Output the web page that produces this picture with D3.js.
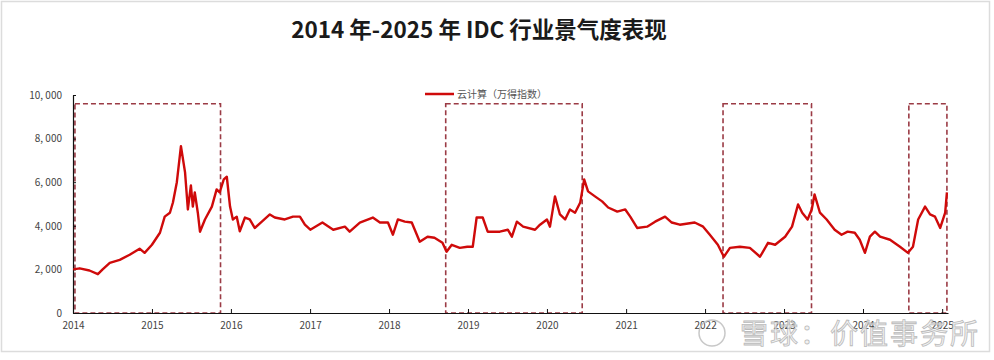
<!DOCTYPE html>
<html>
<head>
<meta charset="utf-8">
<script src="https://cdn.jsdelivr.net/npm/d3@7/dist/d3.min.js"></script>
<style>
  html, body { margin: 0; padding: 0; background: #fff; }
  svg { display: block; }
</style>
</head>
<body>
<svg id="chart" width="994" height="360"></svg>
<script>
// ---- data ----
const title = "2014 年-2025 年 IDC 行业景气度表现";
const seriesName = "云计算（万得指数）";
const dates = [
"2014-01-02","2014-02-01","2014-03-18","2014-04-26","2014-05-18","2014-06-20","2014-08-05","2014-09-20","2014-11-05","2014-11-28",
"2015-01-01","2015-02-07","2015-03-01","2015-03-25","2015-04-08","2015-04-26","2015-05-15","2015-06-03","2015-06-16","2015-06-30",
"2015-07-09","2015-07-18","2015-08-01","2015-08-11","2015-09-03","2015-10-05","2015-10-27","2015-11-10","2015-11-29","2015-12-13",
"2015-12-28","2016-01-10","2016-01-28","2016-02-11","2016-03-06","2016-03-28","2016-04-20","2016-05-23","2016-06-29","2016-07-22",
"2016-09-06","2016-10-14","2016-11-15","2016-12-08","2017-01-02","2017-02-27","2017-04-18","2017-06-11","2017-07-03","2017-08-19",
"2017-10-18","2017-11-20","2017-12-27","2018-01-19","2018-02-11","2018-03-15","2018-04-16","2018-05-23","2018-06-28","2018-07-30",
"2018-09-05","2018-09-24","2018-10-18","2018-11-24","2018-12-29","2019-01-23","2019-02-10","2019-03-10","2019-04-02","2019-05-05",
"2019-05-28","2019-07-04","2019-07-23","2019-08-15","2019-09-13","2019-11-07","2019-11-30","2020-01-01","2020-01-15","2020-02-07",
"2020-03-01","2020-03-25","2020-04-16","2020-05-10","2020-06-03","2020-06-21","2020-07-09","2020-08-10","2020-09-12","2020-10-10",
"2020-11-21","2020-12-28","2021-01-20","2021-02-21","2021-04-08","2021-05-15","2021-06-30","2021-07-31","2021-09-06","2021-11-14",
"2021-12-23","2022-01-23","2022-03-01","2022-03-29","2022-04-26","2022-06-11","2022-07-27","2022-09-12","2022-10-19","2022-11-21",
"2023-01-06","2023-02-07","2023-03-07","2023-03-26","2023-04-20","2023-05-09","2023-05-22","2023-06-16","2023-07-17","2023-08-23",
"2023-09-24","2023-10-22","2023-11-24","2023-12-17","2024-01-10","2024-02-02","2024-02-25","2024-03-20","2024-05-05","2024-06-20",
"2024-07-27","2024-08-19","2024-09-12","2024-10-14","2024-11-06","2024-11-29","2024-12-23","2025-01-15","2025-01-23"
];
const values = [
2000,2050,1950,1780,2000,2300,2440,2670,2950,2760,
3130,3680,4420,4600,5070,6000,7650,6450,4750,5850,
4880,5530,4600,3730,4290,4880,5670,5530,6130,6250,
4880,4290,4420,3750,4380,4290,3900,4190,4520,4380,
4290,4420,4420,4050,3820,4150,3820,3960,3730,4150,
4380,4150,4150,3590,4290,4190,4150,3270,3500,3450,
3220,2810,3130,2990,3040,3040,4380,4380,3730,3730,
3730,3820,3500,4190,3960,3820,4050,4290,3960,5350,
4520,4290,4750,4600,5070,6130,5580,5350,5120,4840,
4650,4750,4420,3900,3960,4190,4420,4150,4050,4150,
3960,3590,3130,2580,2990,3040,2990,2580,3220,3130,
3500,3960,4980,4600,4290,4750,5440,4600,4290,3820,
3590,3730,3680,3360,2760,3500,3730,3500,3360,3040,
2760,3040,4290,4880,4520,4420,3900,4600,5530
];
// highlighted periods (dashed boxes)
const boxStarts = ["2014-01-10","2018-09-20","2022-03-25","2024-07-31"];
const boxEnds   = ["2015-11-14","2020-06-12","2023-05-08","2025-01-23"];
const boxTop = 9600;
const yTicks = [0,2000,4000,6000,8000,10000];
const xTickYears = [2014,2015,2016,2017,2018,2019,2020,2021,2022,2023,2024,2025];
const xDomain = ["2014-01-01","2025-01-28"];
const watermark = "雪球：价值事务所";

// ---- drawing ----
const parse = d3.timeParse("%Y-%m-%d");
const data = dates.map((d,i)=>({date: parse(d), value: values[i]}));
const svg = d3.select("#chart");
const W = 994, H = 360;
const m = {left: 73, right: 46, top: 95, bottom: 47};

svg.append("rect").attr("x",1.5).attr("y",1.5).attr("width",988).attr("height",350)
  .attr("fill","#fff").attr("stroke","#dcdcdc").attr("stroke-width",1.5);

const x = d3.scaleTime().domain(xDomain.map(parse)).range([m.left, W - m.right]);
const y = d3.scaleLinear().domain([0,10000]).range([H - m.bottom, m.top]);

const font = "'Noto Sans CJK SC', 'Noto Sans', sans-serif";

svg.append("text").attr("x",479).attr("y",38).attr("text-anchor","middle")
  .attr("font-family",font).attr("font-weight","bold").attr("font-size",22.5)
  .attr("fill","#1a1a1a").text(title);

// boxes
const boxColor = "#9b3b45";
boxStarts.forEach((s,i)=>{
  const x0 = x(parse(s)), x1 = x(parse(boxEnds[i]));
  svg.append("rect").attr("x",x0).attr("y",y(boxTop)).attr("width",x1-x0)
    .attr("height",y(0)-y(boxTop)).attr("fill","none")
    .attr("stroke",boxColor).attr("stroke-width",1.6).attr("stroke-dasharray","5,3");
});

// axes
const xAxis = d3.axisBottom(x)
  .tickValues(xTickYears.map(yr=>new Date(yr,0,1)))
  .tickFormat(d3.timeFormat("%Y")).tickSizeInner(-4).tickSizeOuter(0).tickPadding(9);
const gx = svg.append("g").attr("transform",`translate(0,${y(0)})`).call(xAxis);
gx.select(".domain").attr("stroke","#111").attr("stroke-width",1.2);
gx.selectAll(".tick line").attr("stroke","#111");
gx.selectAll("text").attr("font-family",font).attr("font-size",10).attr("fill","#444");

const yAxis = d3.axisLeft(y).tickValues(yTicks)
  .tickFormat(d=>d3.format(",")(d).replace(",",", ")).tickSizeInner(-3).tickSizeOuter(0).tickPadding(11);
const gy = svg.append("g").attr("transform",`translate(${m.left},0)`).call(yAxis);
gy.select(".domain").attr("stroke","#111").attr("stroke-width",1.2);
gy.selectAll(".tick line").attr("stroke","#111");
gy.selectAll("text").attr("font-family",font).attr("font-size",10).attr("fill","#444");

// line
const line = d3.line().x(d=>x(d.date)).y(d=>y(d.value));
svg.append("path").datum(data).attr("d",line).attr("fill","none")
  .attr("stroke","#cf0a0a").attr("stroke-width",2.4).attr("stroke-linejoin","round");

// legend
svg.append("line").attr("x1",425).attr("x2",454).attr("y1",94).attr("y2",94)
  .attr("stroke","#cf0a0a").attr("stroke-width",2.5);
svg.append("text").attr("x",457).attr("y",97.5).attr("font-family",font)
  .attr("font-size",10).attr("fill","#555").text(seriesName);

// watermark
const wm = svg.append("g").attr("opacity",0.8);
wm.append("circle").attr("cx",712).attr("cy",333).attr("r",13).attr("fill","none")
  .attr("stroke","#bbb").attr("stroke-width",1.5);
wm.append("text").attr("x",740).attr("y",344).attr("font-family",font)
  .attr("font-size",28).attr("fill","#f0f0f0").attr("stroke","#aaa").attr("stroke-width",0.8)
  .attr("letter-spacing",2).text(watermark);
</script>
</body>
</html>
